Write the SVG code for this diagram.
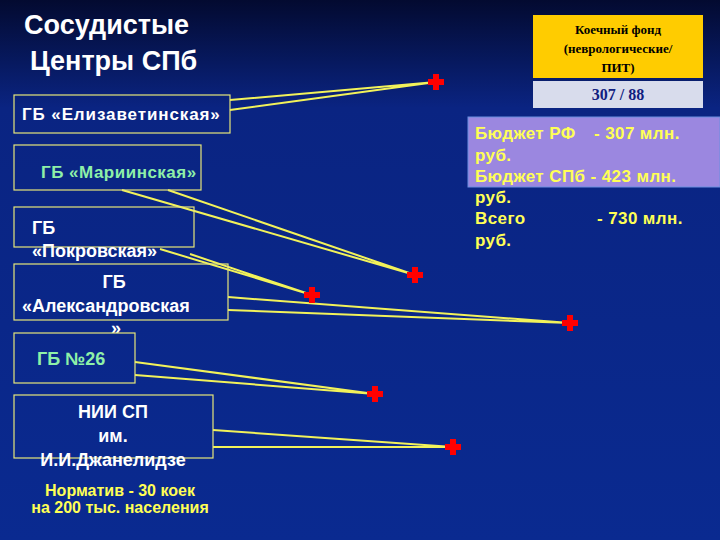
<svg xmlns="http://www.w3.org/2000/svg" width="720" height="540" viewBox="0 0 720 540">
<defs>
<linearGradient id="bg" x1="0" y1="0" x2="0" y2="1">
<stop offset="0" stop-color="#030a30"/><stop offset="0.2" stop-color="#0a2482"/><stop offset="1" stop-color="#0a2a90"/>
</linearGradient>
<style>
.box{fill:none;stroke:#e6e67a;stroke-width:1.2}
.t{font-family:"Liberation Sans",Arial,sans-serif;font-weight:bold;font-size:18px;fill:#fff}
.g{fill:#8ef0a8}
.y{fill:#ffff55}
.ln{stroke:#f2f25a;stroke-width:2;fill:none}
.cross{fill:#ff0000}
</style>
<path id="cr" d="M-3,-8h6v5h5v6h-5v5h-6v-5h-5v-6h5z"/>
</defs>
<rect width="720" height="540" fill="url(#bg)"/>
<g id="title"><text class="t" x="24" y="34" style="font-size:27px">Сосудистые</text><text class="t" x="30" y="70" style="font-size:27px">Центры СПб</text></g>
<g id="connectors">
<polyline class="ln" points="230,100 436,82 230,110"/>
<polyline class="ln" points="122,190 415,275 168,190"/>
<polyline class="ln" points="160,249 312,295 190,254"/>
<polyline class="ln" points="228,297 570,323 228,310"/>
<polyline class="ln" points="135,362 375,394 135,375"/>
<polyline class="ln" points="213,430 453,447 213,447"/>
</g>
<g id="n1"><rect class="box" x="14" y="95" width="216" height="38"/><text class="t" x="22" y="120" style="font-size:17px;letter-spacing:0.9px">ГБ «Елизаветинская»</text></g>
<g id="n2"><rect class="box" x="14" y="145" width="187" height="45"/><text class="t g" x="41" y="178" style="font-size:17px;letter-spacing:0.5px">ГБ «Мариинская»</text></g>
<g id="n3"><rect class="box" x="14" y="207" width="180" height="40"/><text class="t" x="32" y="234">ГБ</text><text class="t" x="32" y="257">«Покровская»</text></g>
<g id="n4"><rect class="box" x="14" y="264" width="214" height="56"/><text class="t" x="114" y="288" text-anchor="middle">ГБ</text><text class="t" x="22" y="312">«Александровская</text><text class="t" x="116" y="334" text-anchor="middle">»</text></g>
<g id="n5"><rect class="box" x="14" y="333" width="121" height="50"/><text class="t g" x="37" y="365">ГБ №26</text></g>
<g id="n6"><rect class="box" x="14" y="395" width="199" height="63"/><text class="t" x="113" y="418" text-anchor="middle">НИИ СП</text><text class="t" x="113" y="442" text-anchor="middle">им.</text><text class="t" x="113" y="466" text-anchor="middle">И.И.Джанелидзе</text></g>
<g id="crosses">
<use href="#cr" class="cross" x="436" y="82"/>
<use href="#cr" class="cross" x="415" y="275"/>
<use href="#cr" class="cross" x="312" y="295"/>
<use href="#cr" class="cross" x="570" y="323"/>
<use href="#cr" class="cross" x="375" y="394"/>
<use href="#cr" class="cross" x="453" y="447"/>
</g>
<g id="norm"><text class="t y" x="120" y="496" text-anchor="middle" style="font-size:16px">Норматив - 30 коек</text><text class="t y" x="120" y="513" text-anchor="middle" style="font-size:16px">на 200 тыс. населения</text></g>
<g id="beds">
<rect x="533" y="15" width="170" height="63" fill="#ffcc00"/>
<rect x="533" y="81" width="170" height="27" fill="#d8dcec"/>
<g font-family="'Liberation Serif',serif" font-weight="bold" fill="#000" font-size="13" text-anchor="middle">
<text x="618" y="34">Коечный фонд</text><text x="618" y="53">(неврологические/</text><text x="618" y="72">ПИТ)</text></g>
<text x="618" y="100" font-family="'Liberation Serif',serif" font-weight="bold" font-size="16" fill="#102080" text-anchor="middle">307 / 88</text>
</g>
<g id="budget">
<rect x="468" y="117" width="252" height="70" fill="#9b87e0" stroke="#6a8ee0"/>
<g class="t y" style="font-size:17px;letter-spacing:0.4px">
<text class="t y" x="475" y="139" style="font-size:17px">Бюджет РФ</text><text class="t y" x="594" y="139" style="font-size:17px">-  307 млн.</text>
<text class="t y" x="475" y="161" style="font-size:17px">руб.</text>
<text class="t y" x="475" y="182" style="font-size:17px">Бюджет СПб -  423 млн.</text>
<text class="t y" x="475" y="203" style="font-size:17px">руб.</text>
<text class="t y" x="475" y="224" style="font-size:17px">Всего</text><text class="t y" x="597" y="224" style="font-size:17px">-  730 млн.</text>
<text class="t y" x="475" y="246" style="font-size:17px">руб.</text>
</g>
</g>
</svg>
